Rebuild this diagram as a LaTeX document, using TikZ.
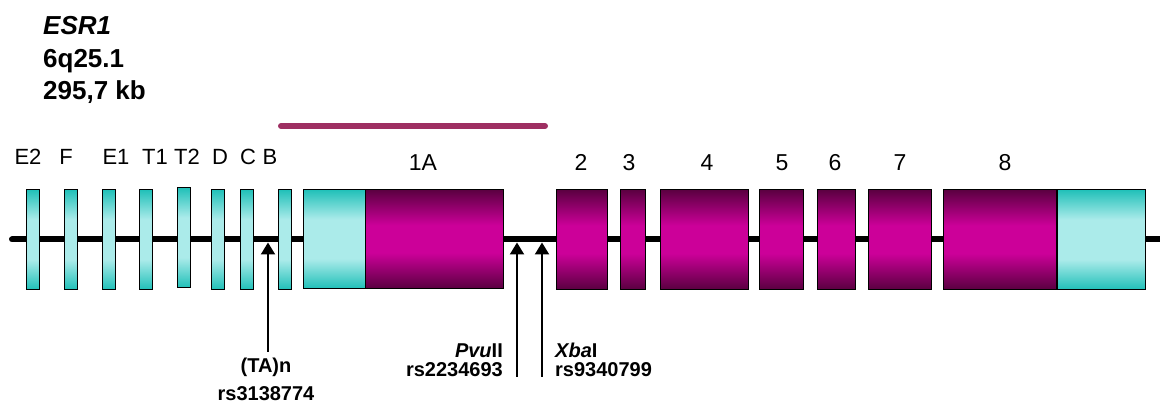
\documentclass[tikz,border=0pt]{standalone}
\usepackage{fontspec}
\setmainfont{Liberation Sans}
\usetikzlibrary{arrows.meta}

\definecolor{tealedge}{HTML}{20C0B8}
\definecolor{tealmid}{HTML}{ABEBEA}
\definecolor{magedge}{HTML}{5A0040}
\definecolor{magmid}{HTML}{CC0099}
\definecolor{barpink}{HTML}{9E2F62}

% vertical gradients for untranslated (teal) and coding (magenta) exons
\pgfdeclareverticalshading{tealbar}{100bp}{color(0bp)=(tealedge); color(25bp)=(tealedge); color(40bp)=(tealmid); color(60bp)=(tealmid); color(75bp)=(tealedge); color(100bp)=(tealedge)}
\pgfdeclareverticalshading{magbar}{100bp}{color(0bp)=(magedge); color(25bp)=(magedge); color(43bp)=(magmid); color(57bp)=(magmid); color(75bp)=(magedge); color(100bp)=(magedge)}

\tikzset{
  exon/.style={rectangle, draw=black, line width=0.9pt, inner sep=0pt, outer sep=0pt},
  utr/.style={exon, shading=tealbar},
  cds/.style={exon, shading=magbar},
  genetxt/.style={inner sep=0pt, anchor=base, font=\fontsize{22}{22}\selectfont},
  exontxt/.style={inner sep=0pt, anchor=base, font=\fontsize{23}{23}\selectfont},
  headtxt/.style={inner sep=0pt, anchor=base west, font=\fontsize{26}{26}\selectfont\bfseries},
  snptxt/.style={inner sep=0pt, font=\fontsize{20}{20}\selectfont\bfseries},
  snparrow/.style={line width=2pt, -{Triangle[width=14pt,length=12pt]}},
}

\begin{document}
\begin{tikzpicture}[x=1pt,y=-1pt]
\useasboundingbox (0,0) rectangle (1160,403);

% header
\node[headtxt] (gene) at (43,35) {\itshape ESR1};
\node[headtxt] (locus) at (43,68) {6q25.1};
\node[headtxt] (size) at (43,100) {295,7 kb};

% region bar above exon 1A
\coordinate (barL) at (281,126);
\coordinate (barR) at (545,126);
\draw[barpink, line width=6pt, line cap=round] (barL) -- (barR);

% chromosome backbone
\coordinate (lineL) at (12,239.5);
\coordinate (lineR) at (1170,239.5);
\draw[line width=6pt, line cap=round] (lineL) -- (lineR);

% untranslated first exons
\node[utr, minimum width=13pt, minimum height=100pt] (xE2) at (33,239.5) {};
\node[utr, minimum width=13pt, minimum height=100pt] (xF)  at (70.5,239.5) {};
\node[utr, minimum width=13pt, minimum height=100pt] (xE1) at (108.5,239.5) {};
\node[utr, minimum width=13pt, minimum height=100pt] (xT1) at (146,239.5) {};
\node[utr, minimum width=13pt, minimum height=100pt] (xT2) at (183.5,237.5) {};
\node[utr, minimum width=13pt, minimum height=100pt] (xD)  at (218,239.5) {};
\node[utr, minimum width=13pt, minimum height=100pt] (xC)  at (246.5,239.5) {};
\node[utr, minimum width=13pt, minimum height=100pt] (xB)  at (284.5,239.5) {};

% exon 1A (5' UTR + coding part)
\node[utr, minimum width=62pt, minimum height=99pt] (x1Au) at (334,239) {};
\node[cds, minimum width=138pt, minimum height=99pt] (x1Ac) at (434,239) {};

% coding exons 2-8
\node[cds, minimum width=51pt, minimum height=100pt] (x2) at (582,239.5) {};
\node[cds, minimum width=25pt, minimum height=100pt] (x3) at (633,239.5) {};
\node[cds, minimum width=88pt, minimum height=100pt] (x4) at (704.5,239.5) {};
\node[cds, minimum width=44pt, minimum height=100pt] (x5) at (781.5,239.5) {};
\node[cds, minimum width=38pt, minimum height=100pt] (x6) at (836.5,239.5) {};
\node[cds, minimum width=63pt, minimum height=100pt] (x7) at (900,239.5) {};
\node[cds, minimum width=113pt, minimum height=100pt] (x8c) at (1000,239.5) {};
\node[utr, minimum width=88pt, minimum height=100pt] (x8u) at (1101,239.5) {};

% exon labels
\node[genetxt] (lE2) at (28,165) {E2};
\node[genetxt] (lF)  at (66,165) {F};
\node[genetxt] (lE1) at (116,165) {E1};
\node[genetxt] (lT1) at (155,165) {T1};
\node[genetxt] (lT2) at (187,165) {T2};
\node[genetxt] (lD)  at (220,165) {D};
\node[genetxt] (lC)  at (248,165) {C};
\node[genetxt] (lB)  at (270,165) {B};
\node[exontxt] (l1A) at (423,171) {1A};
\node[exontxt] (l2) at (581,171) {2};
\node[exontxt] (l3) at (629,171) {3};
\node[exontxt] (l4) at (707,171) {4};
\node[exontxt] (l5) at (782,171) {5};
\node[exontxt] (l6) at (835,171) {6};
\node[exontxt] (l7) at (900,171) {7};
\node[exontxt] (l8) at (1005,171) {8};

% polymorphisms
\node[snptxt, anchor=base] (snpTA) at (266,373) {(TA)n};
\node[snptxt, anchor=base] (snpTAid) at (266,400) {rs3138774};
\node[snptxt, anchor=base east] (snpPvu) at (503,358) {\textit{Pvu}II};
\node[snptxt, anchor=base east] (snpPvuid) at (503,377) {rs2234693};
\node[snptxt, anchor=base west] (snpXba) at (555,358) {\textit{Xba}I};
\node[snptxt, anchor=base west] (snpXbaid) at (555,377) {rs9340799};

\coordinate (taFoot) at (268,352);
\coordinate (taTip)  at (268,242.5);
\coordinate (pvuFoot) at (517,377);
\coordinate (pvuTip)  at (517,242.5);
\coordinate (xbaFoot) at (542,377);
\coordinate (xbaTip)  at (542,242.5);
\draw[snparrow] (taFoot) -- (taTip);
\draw[snparrow] (pvuFoot) -- (pvuTip);
\draw[snparrow] (xbaFoot) -- (xbaTip);
\end{tikzpicture}
\end{document}
